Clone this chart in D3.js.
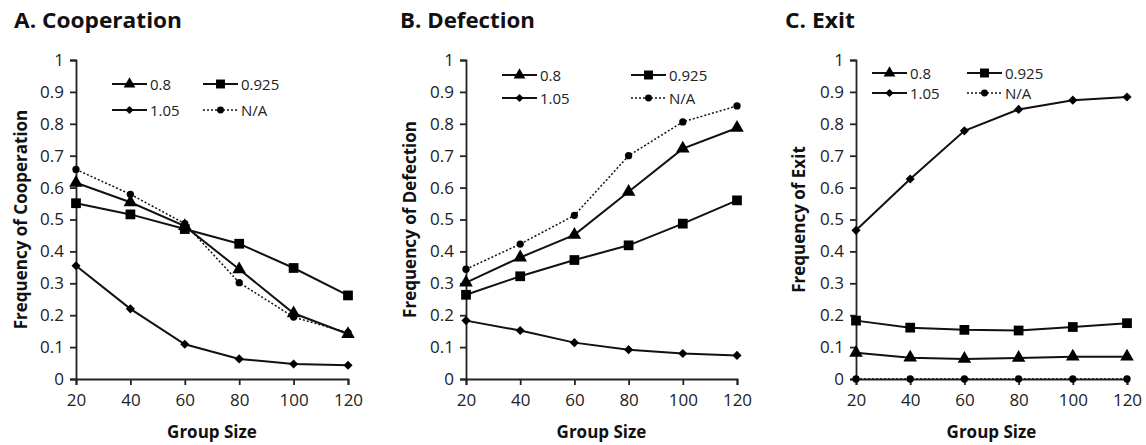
<!DOCTYPE html>
<html><head><meta charset="utf-8">
<script src="https://cdn.jsdelivr.net/npm/d3@7"></script>
<style>
body{margin:0;background:#fff;}
svg{display:block;font-family:"Open Sans",sans-serif;}
</style></head><body>
<svg id="c" width="1146" height="445"></svg>
<script>
const groupSizes = [20, 40, 60, 80, 100, 120];
const yTicks = [0, 0.1, 0.2, 0.3, 0.4, 0.5, 0.6, 0.7, 0.8, 0.9, 1];
const seriesNames = ["0.8", "0.925", "1.05", "N/A"];
const panelTitles = ["A. Cooperation", "B. Defection", "C. Exit"];
const yTitles = ["Frequency of Cooperation", "Frequency of Defection", "Frequency of Exit"];
const xTitle = "Group Size";

// Cooperation
const coop08   = [0.615, 0.554, 0.479, 0.344, 0.206, 0.141];
const coop0925 = [0.551, 0.516, 0.470, 0.424, 0.348, 0.262];
const coop105  = [0.355, 0.220, 0.109, 0.063, 0.047, 0.043];
const coopNA   = [0.657, 0.579, 0.487, 0.302, 0.194, 0.145];
// Defection
const def08   = [0.302, 0.381, 0.452, 0.587, 0.722, 0.787];
const def0925 = [0.264, 0.322, 0.373, 0.419, 0.487, 0.560];
const def105  = [0.183, 0.152, 0.114, 0.092, 0.080, 0.074];
const defNA   = [0.344, 0.423, 0.513, 0.700, 0.806, 0.856];
// Exit
const exit08   = [0.082, 0.067, 0.063, 0.066, 0.070, 0.070];
const exit0925 = [0.183, 0.161, 0.154, 0.152, 0.163, 0.175];
const exit105  = [0.466, 0.627, 0.778, 0.845, 0.874, 0.884];
const exitNA   = [0, 0, 0, 0, 0, 0];

const panelData = [
  [coop08, coop0925, coop105, coopNA],
  [def08, def0925, def105, defNA],
  [exit08, exit0925, exit105, exitNA]
];

const svg = d3.select("#c");
const markerTypes = [d3.symbolTriangle, d3.symbolSquare, d3.symbolSquare, d3.symbolCircle];
const markerRot = [0, 0, 45, 0];
const markerSizes = [80, 95, 42, 42];
const legendMarkerSizes = [60, 80, 34, 38];

const layouts = [
  {x0: 76, x1: 348, titleX: 14, titleW: 168, yTitleX: 20, leg: {r1: 84, r2: 110, c1: 112, c2: 203}},
  {x0: 466, x1: 737, titleX: 400, titleW: 135, yTitleX: 409, leg: {r1: 75, r2: 98, c1: 502, c2: 631}},
  {x0: 856, x1: 1127, titleX: 785, titleW: 70, yTitleX: 798, leg: {r1: 73, r2: 93, c1: 872, c2: 967}}
];
const yTop = 60, yBot = 379;

panelData.forEach((series, pi) => {
  const L = layouts[pi];
  const g = svg.append("g");
  const x = d3.scaleLinear().domain([20, 120]).range([L.x0, L.x1]);
  const y = d3.scaleLinear().domain([0, 1]).range([yBot, yTop]);

  g.append("text").attr("x", L.titleX).attr("y", 28)
    .attr("font-size", 21).attr("font-weight", "bold").attr("fill", "#111")
    .attr("textLength", L.titleW).attr("lengthAdjust", "spacingAndGlyphs")
    .text(panelTitles[pi]);

  const yAxis = g.append("g").attr("transform", `translate(${L.x0},0)`)
    .call(d3.axisLeft(y).tickValues(yTicks).tickFormat(d => String(+d.toFixed(1))).tickSizeOuter(0).tickSize(6).tickPadding(6));
  const xAxis = g.append("g").attr("transform", `translate(0,${yBot})`)
    .call(d3.axisBottom(x).tickValues(groupSizes).tickSizeOuter(0).tickSize(6).tickPadding(9));
  [yAxis, xAxis].forEach(a => {
    a.selectAll("path,line").attr("stroke", "#222").attr("stroke-width", 1.8);
    a.selectAll("text").attr("font-size", 17).attr("fill", "#222").attr("font-family", "Open Sans");
  });

  g.append("text").attr("x", (L.x0 + L.x1) / 2).attr("y", 438)
    .attr("text-anchor", "middle").attr("font-size", 17).attr("font-weight", "bold").attr("fill", "#111")
    .text(xTitle);
  g.append("text").attr("transform", `translate(${L.yTitleX},${(yTop + yBot) / 2}) rotate(-90)`)
    .attr("text-anchor", "middle").attr("dominant-baseline", "central")
    .attr("font-size", 17).attr("font-weight", "bold").attr("fill", "#111")
    .text(yTitles[pi]);

  const line = d3.line().x((d, i) => x(groupSizes[i])).y(d => y(d));
  series.forEach((vals, si) => {
    const isNA = si === 3;
    g.append("path").attr("d", line(vals)).attr("fill", "none")
      .attr("stroke", "#111").attr("stroke-width", isNA ? 1.5 : 2)
      .attr("stroke-dasharray", isNA ? "2,2" : null);
    g.selectAll(null).data(vals).enter().append("path")
      .attr("d", d3.symbol().type(markerTypes[si]).size(markerSizes[si]))
      .attr("transform", (d, i) => `translate(${x(groupSizes[i])},${y(d)}) rotate(${markerRot[si]})`)
      .attr("fill", "#000");
  });

  // legend
  const pos = [[L.leg.c1, L.leg.r1], [L.leg.c2, L.leg.r1], [L.leg.c1, L.leg.r2], [L.leg.c2, L.leg.r2]];
  seriesNames.forEach((name, si) => {
    const [lx, ly] = pos[si];
    const isNA = si === 3;
    g.append("line").attr("x1", lx).attr("x2", lx + 35).attr("y1", ly).attr("y2", ly)
      .attr("stroke", "#111").attr("stroke-width", isNA ? 1.5 : 2)
      .attr("stroke-dasharray", isNA ? "2,2" : null);
    g.append("path").attr("d", d3.symbol().type(markerTypes[si]).size(legendMarkerSizes[si]))
      .attr("transform", `translate(${lx + 17.5},${ly}) rotate(${markerRot[si]})`).attr("fill", "#000");
    g.append("text").attr("x", lx + 38).attr("y", ly).attr("dominant-baseline", "central")
      .attr("font-size", 15).attr("fill", "#222").text(name);
  });
});
</script>
</body></html>
